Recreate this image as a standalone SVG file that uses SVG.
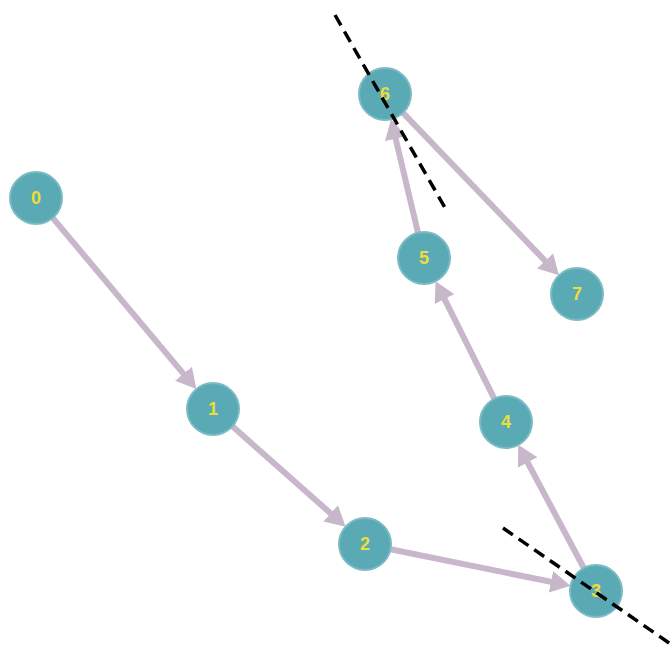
<svg xmlns="http://www.w3.org/2000/svg" width="672" height="652" viewBox="0 0 672 652">
<style>
.edge{stroke:#c8b7cb;stroke-width:6;fill:none;marker-end:url(#ah)}
.node circle{fill:#5aaab5;stroke:#7bbcc4;stroke-width:2}
.node text{font-family:"Liberation Sans",Arial,sans-serif;font-weight:bold;font-size:18px;fill:#eedc3a;text-anchor:middle;dominant-baseline:central}
.cut{stroke:#000;stroke-width:3.5;stroke-dasharray:12 7;fill:none}
</style>
<defs>
<marker id="ah" markerUnits="userSpaceOnUse" markerWidth="22" markerHeight="22" refX="5" refY="11" orient="auto">
<path d="M0,0 L20,11 L0,22 z" fill="#c8b7cb"/>
</marker>
</defs>
<rect width="672" height="652" fill="#fff"/>
<g id="connectors">
<line class="edge" x1="52.7" y1="217.9" x2="186.7" y2="377.6"/>
<line class="edge" x1="232.4" y1="426.3" x2="334.4" y2="516.7"/>
<line class="edge" x1="390.5" y1="549.2" x2="555.8" y2="582.8"/>
<line class="edge" x1="583.8" y1="568.0" x2="525.3" y2="458.1"/>
<line class="edge" x1="494.4" y1="398.8" x2="442.3" y2="294.6"/>
<line class="edge" x1="418.0" y1="232.7" x2="394.5" y2="133.9"/>
<line class="edge" x1="403.0" y1="112.8" x2="548.6" y2="264.5"/>
</g>
<g id="n0" class="node"><circle cx="36" cy="198" r="26"/><text x="36" y="198">0</text></g>
<g id="n1" class="node"><circle cx="213" cy="409" r="26"/><text x="213" y="409">1</text></g>
<g id="n2" class="node"><circle cx="365" cy="544" r="26"/><text x="365" y="544">2</text></g>
<g id="n3" class="node"><circle cx="596" cy="591" r="26"/><text x="596" y="591">3</text></g>
<g id="n4" class="node"><circle cx="506" cy="422" r="26"/><text x="506" y="422">4</text></g>
<g id="n5" class="node"><circle cx="424" cy="258" r="26"/><text x="424" y="258">5</text></g>
<g id="n6" class="node"><circle cx="385" cy="94" r="26"/><text x="385" y="94">6</text></g>
<g id="n7" class="node"><circle cx="577" cy="294" r="26"/><text x="577" y="294">7</text></g>
<g id="cuts">
<line class="cut" x1="335" y1="15" x2="448" y2="213"/>
<line class="cut" x1="503" y1="528" x2="672" y2="645"/>
</g>
</svg>
